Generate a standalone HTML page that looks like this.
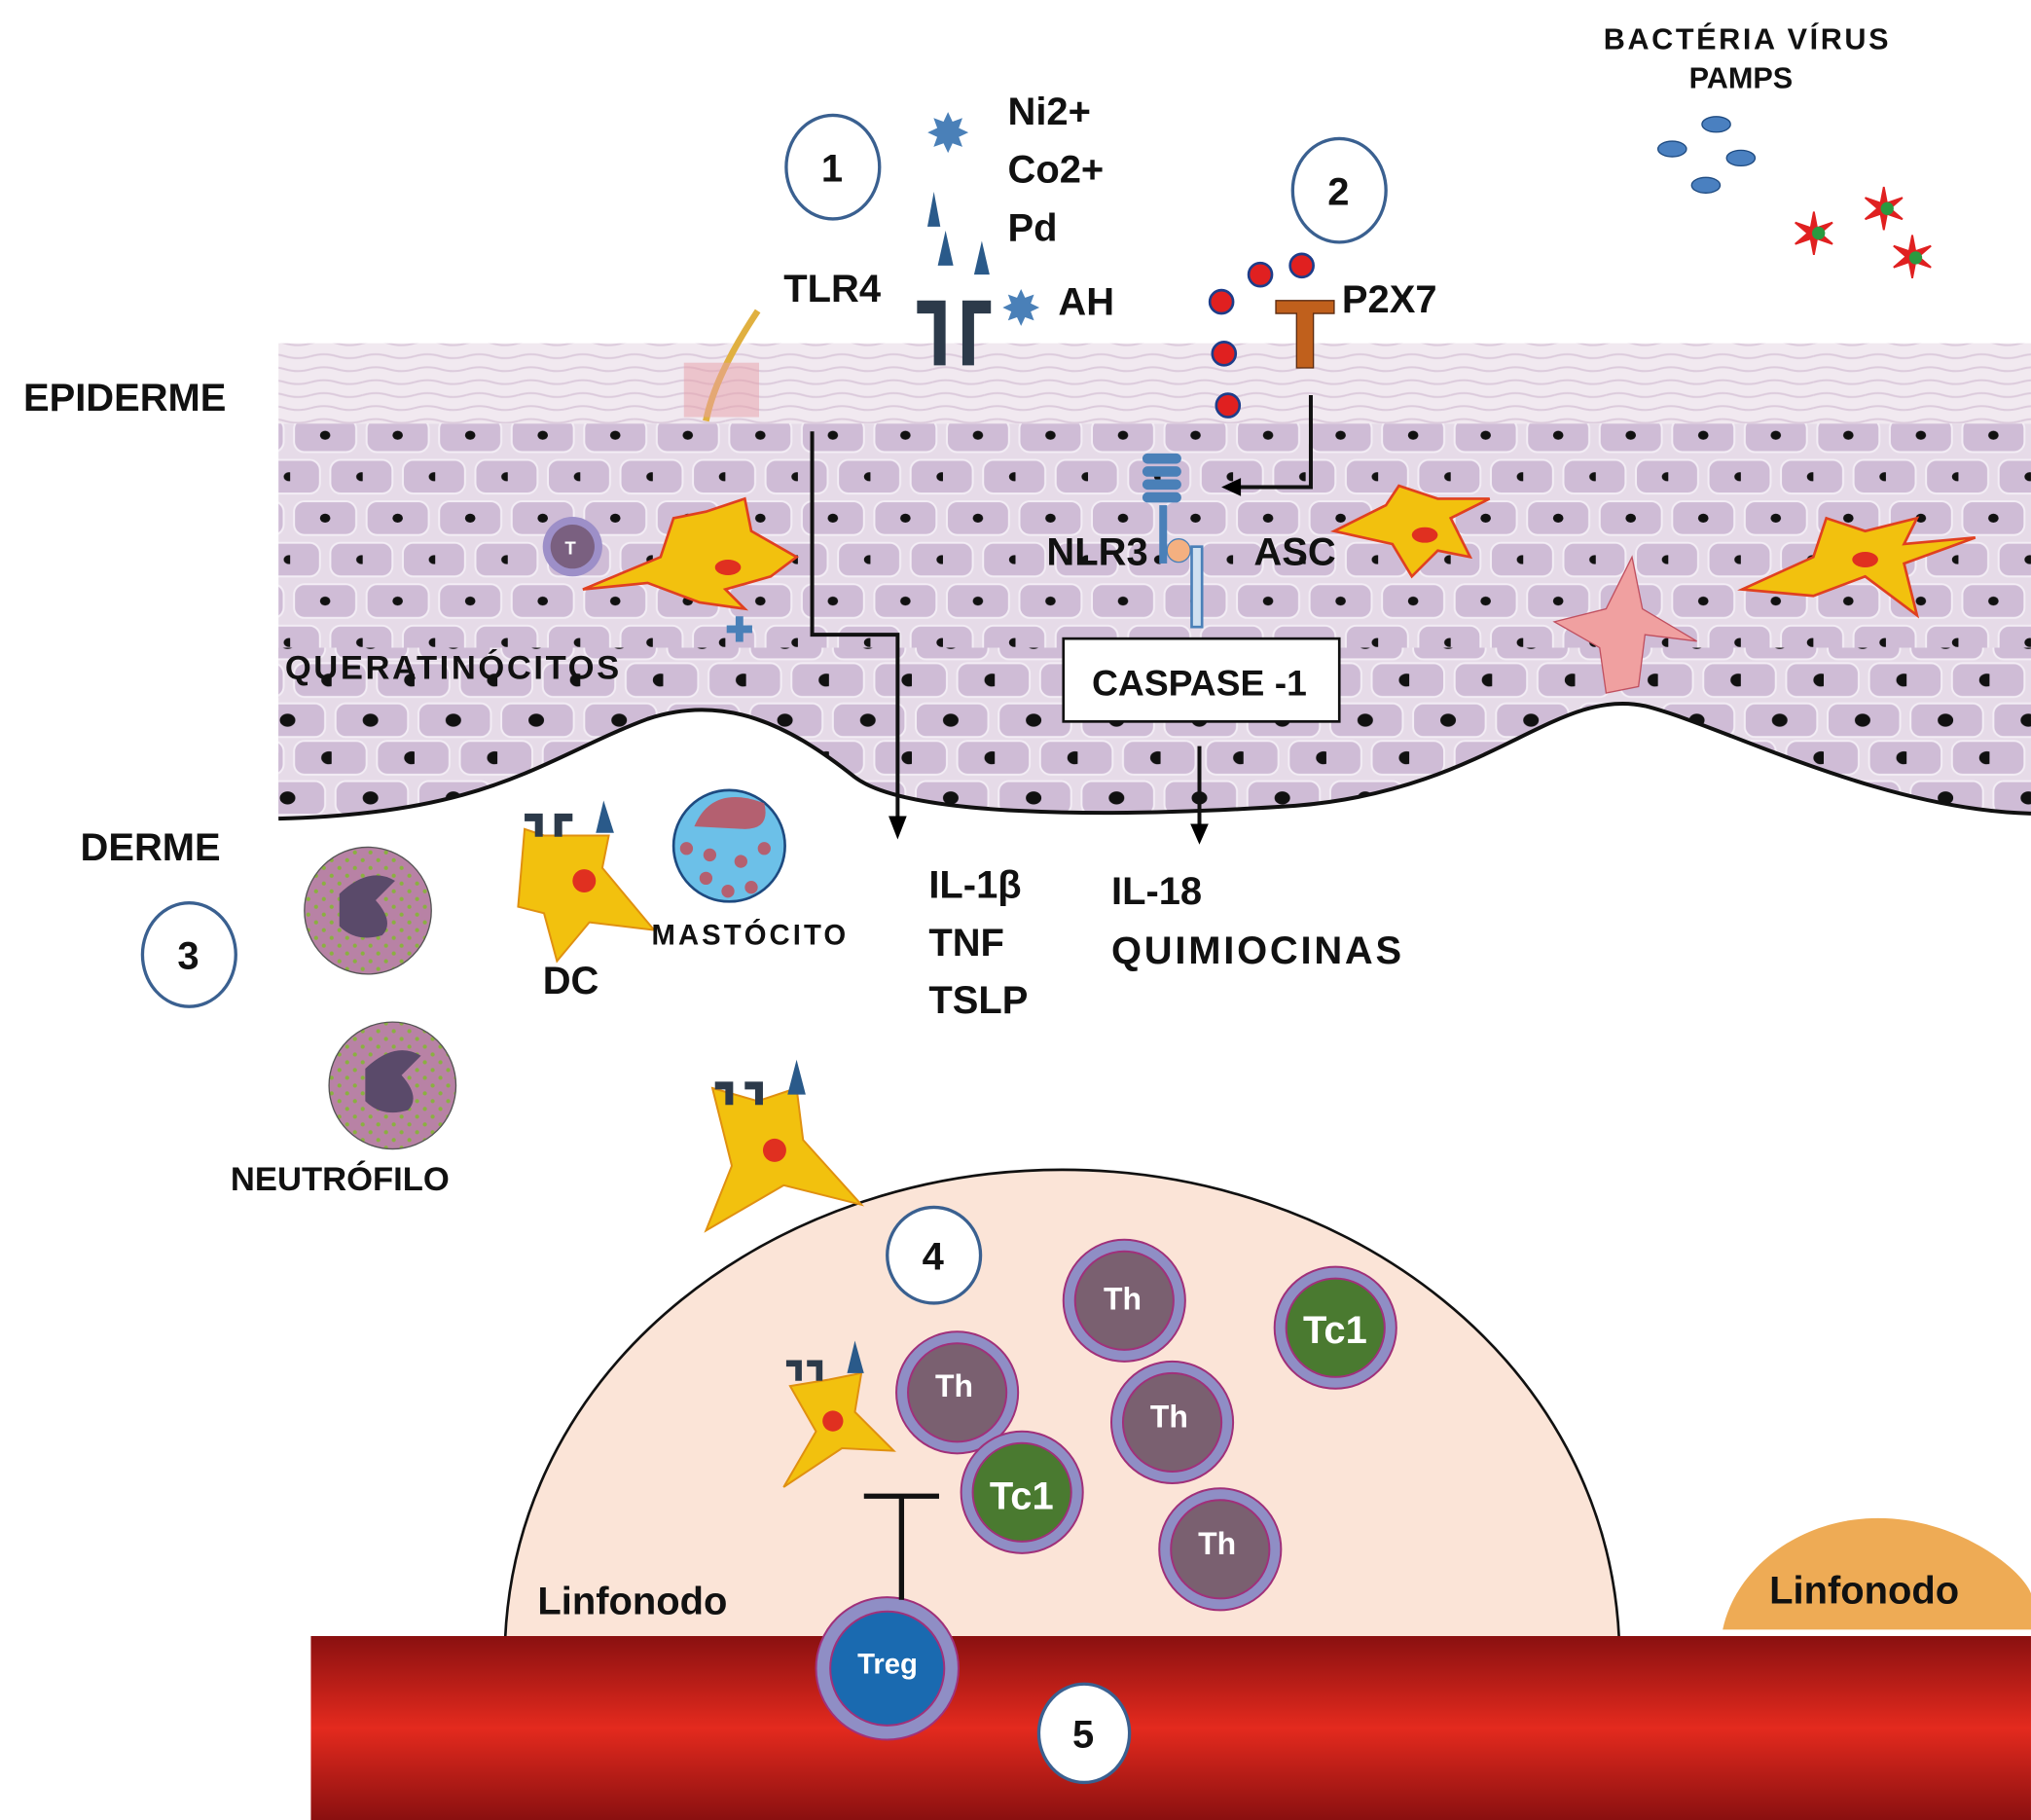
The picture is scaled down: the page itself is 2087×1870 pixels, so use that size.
<!DOCTYPE html>
<html><head><meta charset="utf-8"><style>html,body{margin:0;padding:0;background:#fff}svg{display:block}text{font-family:"Liberation Sans",sans-serif;font-weight:bold;fill:#111}</style></head>
<body>
<svg width="2087" height="1870" viewBox="0 0 1568 1405" xmlns="http://www.w3.org/2000/svg">
<defs>
<pattern id="cells" width="56" height="64" patternUnits="userSpaceOnUse">
<rect width="56" height="64" fill="#e6dbe8"/>
<rect x="3" y="3" width="48" height="26" rx="8" fill="#cfbcd6" stroke="#f3edf5" stroke-width="1.5"/>
<rect x="-25" y="35" width="48" height="26" rx="8" fill="#cfbcd6" stroke="#f3edf5" stroke-width="1.5"/>
<rect x="31" y="35" width="48" height="26" rx="8" fill="#cfbcd6" stroke="#f3edf5" stroke-width="1.5"/>
<ellipse cx="27" cy="16" rx="4" ry="3.5" fill="#111"/>
<ellipse cx="55" cy="48" rx="4" ry="3.5" fill="#111"/>
</pattern>
<pattern id="big" width="64" height="60" patternUnits="userSpaceOnUse">
<rect width="64" height="60" fill="#e6dbe8"/>
<rect x="3" y="3" width="56" height="26" rx="8" fill="#cfbcd6" stroke="#f3edf5" stroke-width="1.5"/>
<rect x="-29" y="32" width="56" height="26" rx="8" fill="#cfbcd6" stroke="#f3edf5" stroke-width="1.5"/>
<rect x="35" y="32" width="56" height="26" rx="8" fill="#cfbcd6" stroke="#f3edf5" stroke-width="1.5"/>
<ellipse cx="30" cy="16" rx="6" ry="5" fill="#111"/>
<ellipse cx="62" cy="45" rx="6" ry="5" fill="#111"/>
</pattern>
<pattern id="top" width="40" height="10" patternUnits="userSpaceOnUse">
<rect width="40" height="10" fill="#f1e9f0"/>
<path d="M0 5 Q10 2 20 5 T40 5" stroke="#dccbdc" fill="none" stroke-width="1.5"/>
</pattern>
<pattern id="gdots" width="12" height="12" patternUnits="userSpaceOnUse">
<rect width="12" height="12" fill="#b882a5"/><circle cx="4" cy="4" r="1.6" fill="#8ab040"/><circle cx="10" cy="10" r="1.6" fill="#8ab040"/>
</pattern>
<linearGradient id="blood" x1="0" y1="0" x2="0" y2="1">
<stop offset="0" stop-color="#8a1010"/><stop offset="0.5" stop-color="#e42a1e"/><stop offset="1" stop-color="#8a1010"/>
</linearGradient>
</defs>
<rect x="215" y="265" width="1353" height="62" fill="url(#top)"/>
<path d="M215 327 H1568 V628 C1450 625 1330 560 1270 545 C1200 530 1150 610 1000 622 C850 632 700 630 660 600 C610 560 560 535 500 555 C420 585 380 628 215 632 Z" fill="url(#cells)"/>
<path d="M215 500 H1568 V628 C1450 625 1330 560 1270 545 C1200 530 1150 610 1000 622 C850 632 700 630 660 600 C610 560 560 535 500 555 C420 585 380 628 215 632 Z" fill="url(#big)"/>
<path d="M215 632 C380 628 420 585 500 555 C560 535 610 560 660 600 C700 630 850 632 1000 622 C1150 610 1200 530 1270 545 C1330 560 1450 625 1568 628" fill="none" stroke="#111" stroke-width="3"/>
<path d="M545 325 C550 300 565 270 585 240" stroke="#e0b040" stroke-width="5" fill="none"/>
<rect x="528" y="280" width="58" height="42" fill="#e8a0a8" opacity="0.5"/>
<path d="M390 1265 C400 1050 600 903 820 903 C1040 903 1240 1050 1250 1265 Z" fill="#fbe4d7" stroke="#111" stroke-width="2"/>
<path d="M1330 1258 C1340 1210 1390 1172 1450 1172 C1510 1172 1560 1210 1568 1230 V1258 Z" fill="#eeab55"/>
<rect x="240" y="1263" width="1328" height="142" fill="url(#blood)"/>
<g fill="#f2c10e" stroke="#e04020" stroke-width="2">
<path d="M450 455 L510 430 L520 400 L545 395 L575 385 L580 410 L615 430 L595 445 L560 455 L575 470 L540 465 L500 450 Z"/>
<path d="M1030 410 L1070 390 L1080 375 L1110 385 L1150 385 L1120 400 L1135 430 L1110 425 L1090 445 L1075 420 Z"/>
<path d="M1345 455 L1400 430 L1410 400 L1440 410 L1480 400 L1470 420 L1525 415 L1470 435 L1480 475 L1440 445 L1400 460 Z"/>
</g>
<ellipse cx="562" cy="438" rx="10" ry="6" fill="#e03020"/><ellipse cx="1100" cy="413" rx="10" ry="6" fill="#e03020"/><ellipse cx="1440" cy="432" rx="10" ry="6" fill="#e03020"/>
<path d="M1200 480 L1240 470 L1260 430 L1268 470 L1310 495 L1270 490 L1265 530 L1240 535 L1235 500 Z" fill="#f0a0a0" stroke="#c05060"/>
<circle cx="442" cy="422" r="23" fill="#9d8fc8"/><circle cx="442" cy="422" r="17" fill="#7a6080"/><text x="436" y="428" font-size="14" style="fill:#fff">T</text>
<text x="560" y="495" font-size="26" style="fill:#4a80b8">✚</text>
<g fill="#2c3a4a"><path d="M708 232 h22 v50 h-9 v-40 h-13z"/><path d="M765 232 h-22 v50 h9 v-40 h13z"/></g>
<path d="M985 232 h45 v10 h-16 v42 h-13 v-42 h-16z" fill="#c0601c" stroke="#5a2a10"/>
<g fill="#4a80b8"><rect x="882" y="350" width="30" height="8" rx="4"/><rect x="882" y="360" width="30" height="8" rx="4"/><rect x="882" y="370" width="30" height="8" rx="4"/><rect x="882" y="380" width="30" height="8" rx="4"/></g>
<rect x="895" y="390" width="6" height="45" fill="#4a80b8"/><circle cx="910" cy="425" r="9" fill="#f4b080" stroke="#4a80b8"/><rect x="920" y="422" width="8" height="62" fill="#cfe0f0" stroke="#4a80b8" stroke-width="2"/>
<path d="M627 333 V490 H693 V635" fill="none" stroke="#111" stroke-width="3"/><path d="M686 630 L693 648 L700 630 Z"/>
<path d="M1012 305 V376 H955" fill="none" stroke="#111" stroke-width="3"/><path d="M958 369 L943 376 L958 383 Z"/>
<path d="M926 576 V640" stroke="#111" stroke-width="3"/><path d="M919 636 L926 652 L933 636 Z"/>
<rect x="821" y="493" width="213" height="64" fill="#fff" stroke="#111" stroke-width="2"/>
<text x="843" y="537" font-size="28">CASPASE -1</text>
<text x="716" y="116" font-size="38" style="fill:#4a80b8">✸</text><text x="774" y="250" font-size="34" style="fill:#4a80b8">✸</text>
<g fill="#2a5a8a"><path d="M716 175 L721 148 L726 175Z"/><path d="M724 205 L730 178 L736 205Z"/><path d="M752 212 L758 186 L764 212Z"/></g>
<g fill="#e02020" stroke="#1d3d8a" stroke-width="2"><circle cx="943" cy="233" r="9"/><circle cx="973" cy="212" r="9"/><circle cx="1005" cy="205" r="9"/><circle cx="945" cy="273" r="9"/><circle cx="948" cy="313" r="9"/></g>
<g fill="#4a80c0" stroke="#1e4a80"><ellipse cx="1325" cy="96" rx="11" ry="6"/><ellipse cx="1291" cy="115" rx="11" ry="6"/><ellipse cx="1344" cy="122" rx="11" ry="6"/><ellipse cx="1317" cy="143" rx="11" ry="6"/></g>
<g font-size="44"><text x="1382" y="196" style="fill:#e02020">✶</text><text x="1436" y="177" style="fill:#e02020">✶</text><text x="1458" y="214" style="fill:#e02020">✶</text></g>
<g fill="#2a9a40"><circle cx="1404" cy="180" r="5"/><circle cx="1457" cy="161" r="5"/><circle cx="1479" cy="199" r="5"/></g>
<circle cx="284" cy="703" r="49" fill="url(#gdots)" stroke="#555"/><path d="M262 690 Q285 668 305 680 L290 695 Q305 712 295 722 Q275 728 262 715 Z" fill="#5a4a6a"/>
<circle cx="303" cy="838" r="49" fill="url(#gdots)" stroke="#555"/><path d="M282 825 Q305 803 325 815 L310 830 Q325 847 315 857 Q295 863 282 850 Z" fill="#5a4a6a"/>
<circle cx="563" cy="653" r="43" fill="#6cc0e8" stroke="#1e4a80" stroke-width="2"/><path d="M536 638 Q550 605 590 620 Q595 640 575 640 Z" fill="#b46070"/>
<g fill="#b46070"><circle cx="530" cy="655" r="5"/><circle cx="548" cy="660" r="5"/><circle cx="572" cy="665" r="5"/><circle cx="590" cy="655" r="5"/><circle cx="545" cy="678" r="5"/><circle cx="562" cy="688" r="5"/><circle cx="580" cy="685" r="5"/></g>
<g fill="#f2c10e" stroke="#e09010" stroke-width="1.5">
<path d="M405 640 L420 645 L470 645 L465 670 L505 718 L455 712 L430 742 L420 705 L400 700 Z"/>
<path d="M550 840 L585 850 L615 840 L620 880 L665 930 L605 915 L545 950 L565 900 Z"/>
<path d="M610 1070 L640 1065 L665 1060 L660 1090 L690 1120 L650 1118 L605 1148 L630 1105 Z"/>
</g>
<circle cx="451" cy="680" r="9" fill="#e03020"/><circle cx="598" cy="888" r="9" fill="#e03020"/><circle cx="643" cy="1097" r="8" fill="#e03020"/>
<g fill="#2c3a4a"><path d="M405 628 h14 v18 h-6 v-12 h-8z"/><path d="M430 628 h-14 v18 h6 v-12 h8z" transform="translate(12 0)"/><path d="M552 835 h14 v18 h-6 v-12 h-8z"/><path d="M575 835 h14 v18 h-6 v-12 h-8z"/><path d="M607 1050 h12 v16 h-5 v-11 h-7z"/><path d="M623 1050 h12 v16 h-5 v-11 h-7z"/></g>
<g fill="#2a5a8a"><path d="M460 643 L466 618 L474 643Z"/><path d="M608 845 L615 818 L622 845Z"/><path d="M654 1060 L660 1035 L667 1060Z"/></g>
<g stroke="#a0307a" stroke-width="1.5">
<circle cx="868" cy="1004" r="47" fill="#8f8ec5"/><circle cx="868" cy="1004" r="38" fill="#7a6070"/>
<circle cx="739" cy="1075" r="47" fill="#8f8ec5"/><circle cx="739" cy="1075" r="38" fill="#7a6070"/>
<circle cx="905" cy="1098" r="47" fill="#8f8ec5"/><circle cx="905" cy="1098" r="38" fill="#7a6070"/>
<circle cx="942" cy="1196" r="47" fill="#8f8ec5"/><circle cx="942" cy="1196" r="38" fill="#7a6070"/>
<circle cx="1031" cy="1025" r="47" fill="#8f8ec5"/><circle cx="1031" cy="1025" r="38" fill="#4a7a30"/>
<circle cx="789" cy="1152" r="47" fill="#8f8ec5"/><circle cx="789" cy="1152" r="38" fill="#4a7a30"/>
<circle cx="685" cy="1288" r="55" fill="#8f8ec5"/><circle cx="685" cy="1288" r="44" fill="#1a6ab0"/>
</g>
<g font-size="24"><text x="852" y="1011" style="fill:#fff">Th</text><text x="722" y="1078" style="fill:#fff">Th</text><text x="888" y="1102" style="fill:#fff">Th</text><text x="925" y="1200" style="fill:#fff">Th</text></g>
<text x="1006" y="1037" font-size="30" style="fill:#fff">Tc1</text><text x="764" y="1165" font-size="30" style="fill:#fff">Tc1</text>
<text x="662" y="1292" font-size="22" style="fill:#fff">Treg</text>
<path d="M667 1155 H725 M696 1155 V1235" stroke="#111" stroke-width="4"/>
<g fill="#fff" stroke="#3a6090" stroke-width="2.5">
<ellipse cx="643" cy="129" rx="36" ry="40"/><ellipse cx="1034" cy="147" rx="36" ry="40"/><ellipse cx="146" cy="737" rx="36" ry="40"/><ellipse cx="721" cy="969" rx="36" ry="37"/><ellipse cx="837" cy="1338" rx="35" ry="38"/>
</g>
<g font-size="30"><text x="634" y="140">1</text><text x="1025" y="158">2</text><text x="137" y="748">3</text><text x="712" y="980">4</text><text x="828" y="1349">5</text></g>
<g font-size="30">
<text x="778" y="96">Ni2+</text><text x="778" y="141">Co2+</text><text x="778" y="186">Pd</text><text x="817" y="243">AH</text>
<text x="605" y="233">TLR4</text><text x="1036" y="241">P2X7</text>
<text x="18" y="317">EPIDERME</text><text x="62" y="664">DERME</text>
<text x="808" y="436">NLR3</text><text x="968" y="436">ASC</text>
<text x="419" y="767">DC</text>
<text x="717" y="693">IL-1β</text><text x="717" y="738">TNF</text><text x="717" y="782">TSLP</text>
<text x="858" y="698">IL-18</text><text x="858" y="744" textLength="224">QUIMIOCINAS</text>
<text x="415" y="1246">Linfonodo</text><text x="1366" y="1238">Linfonodo</text>
</g>
<g font-size="26"><text x="220" y="524" textLength="258">QUERATINÓCITOS</text><text x="178" y="919">NEUTRÓFILO</text></g>
<text x="503" y="729" font-size="22" textLength="150">MASTÓCITO</text>
<text x="1238" y="38" font-size="23" textLength="220">BACTÉRIA  VÍRUS</text><text x="1304" y="68" font-size="23">PAMPS</text>
</svg>
</body></html>
